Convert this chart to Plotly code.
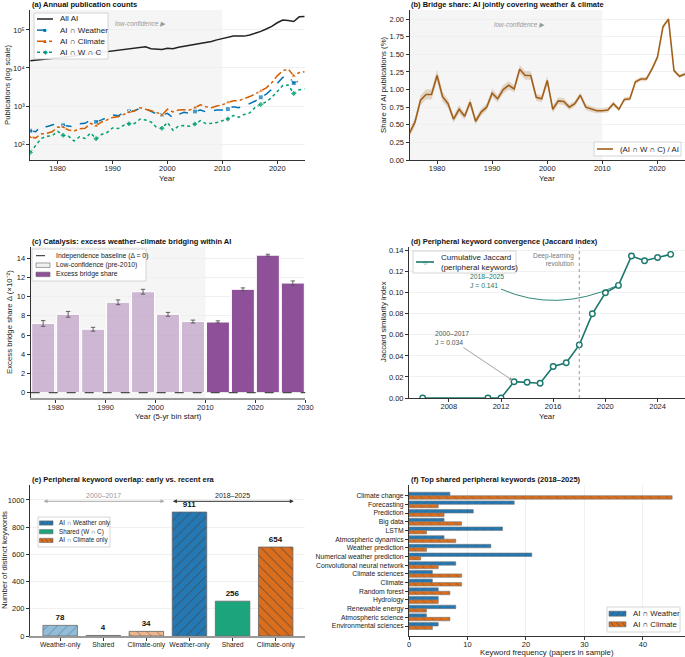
import plotly.graph_objects as go

W, H = 685, 657
FONT = "Liberation Sans, Arial, sans-serif"

# ---------------- data ----------------
years = list(range(1975, 2026))
all_ai = [15500, 16000, 16500, 17200, 17800, 18500, 19300, 20000, 20800, 21800,
          22800, 24000, 25000, 26000, 27000, 28300, 29500, 30500, 31500, 33000,
          34500, 36000, 32000, 31000, 30500, 33000, 32000, 35000, 37000, 39500,
          42000, 45000, 46500, 50000, 55000, 60000, 64000, 69000, 69000, 69000,
          74000, 82000, 92000, 106000, 124000, 155000, 183000, 178000, 167000, 222000,
          225000]
ai_weather = [224, 210, 300, 285, 316, 350, 310, 300, 285, 340,
              350, 430, 380, 430, 500, 580, 550, 670, 720, 750,
              870, 850, 720, 620, 580, 640, 490, 600, 680, 640,
              720, 780, 700, 740, 780, 780, 830, 960, 900, 1000,
              1180, 1350, 1690, 2050, 2750, 3950, 5650, 6200, 4000, 4600,
              4650]
ai_climate = [150, 145, 183, 190, 210, 280, 275, 233, 220, 253,
              260, 350, 300, 380, 430, 500, 520, 600, 680, 740,
              900, 820, 750, 680, 580, 820, 700, 780, 800, 780,
              900, 1080, 960, 900, 1000, 1080, 1230, 1380, 1380, 1550,
              1770, 2070, 2480, 3000, 4100, 6200, 8500, 9400, 6200, 7600,
              8000]
ai_wc = [60, 90, 140, 160, 165, 215, 170, 160, 120, 155,
         140, 195, 138, 178, 200, 265, 255, 310, 340, 345,
         450, 430, 380, 275, 260, 370, 230, 295, 305, 295,
         335, 410, 345, 350, 370, 410, 455, 560, 505, 600,
         660, 930, 1100, 1290, 1680, 2340, 3460, 3560, 2130, 2680,
         2800]
bridge_share = [0.38, 0.54, 0.85, 0.93, 0.93, 1.20, 0.90, 0.80, 0.58, 0.72,
                0.62, 0.82, 0.55, 0.68, 0.75, 0.95, 0.87, 1.00, 1.06, 1.01,
                1.29, 1.20, 1.20, 0.89, 0.87, 1.13, 0.72, 0.84, 0.83, 0.75,
                0.80, 0.92, 0.75, 0.72, 0.70, 0.70, 0.71, 0.80, 0.72, 0.86,
                0.87, 1.11, 1.15, 1.15, 1.29, 1.46, 1.89, 2.00, 1.27, 1.19,
                1.22]
bridge_ci = [0.05, 0.06, 0.07, 0.07, 0.07, 0.08, 0.07, 0.06, 0.05, 0.06,
             0.05, 0.06, 0.05, 0.05, 0.05, 0.06, 0.05, 0.06, 0.06, 0.05,
             0.06, 0.06, 0.06, 0.05, 0.05, 0.06, 0.05, 0.05, 0.05, 0.04,
             0.04, 0.04, 0.04, 0.04, 0.035, 0.035, 0.035, 0.035, 0.03, 0.03,
             0.03, 0.03, 0.03, 0.03, 0.03, 0.03, 0.03, 0.03, 0.025, 0.025,
             0.025]

bin_starts = [1975, 1980, 1985, 1990, 1995, 2000, 2005, 2010, 2015, 2020, 2025]
excess = [7.2, 8.15, 6.6, 9.4, 10.5, 8.15, 7.4, 7.35, 10.75, 14.3, 11.4]
excess_err = [0.3, 0.3, 0.2, 0.25, 0.25, 0.2, 0.15, 0.12, 0.15, 0.1, 0.22]

jac_years = [2006, 2011, 2012, 2013, 2014, 2015, 2016, 2017, 2018, 2019,
             2020, 2021, 2022, 2023, 2024, 2025]
jac_vals = [0.0, 0.0, 0.0, 0.0155, 0.015, 0.014, 0.030, 0.0335, 0.0505, 0.080,
            0.100, 0.107, 0.135, 0.1305, 0.1335, 0.1365]

overlap_cats = ["Weather-only", "Shared", "Climate-only"]
overlap_names = ["AI ∩ Weather only", "Shared (W ∩ C)", "AI ∩ Climate only"]
overlap_early = [78, 4, 34]
overlap_recent = [911, 256, 654]

kw_names = ["Climate change", "Forecasting", "Prediction", "Big data", "LSTM",
            "Atmospheric dynamics", "Weather prediction", "Numerical weather prediction",
            "Convolutional neural network", "Climate sciences", "Climate", "Random forest",
            "Hydrology", "Renewable energy", "Atmospheric science", "Environmental sciences"]
kw_weather = [7, 18, 11, 6, 16, 6, 14, 21, 8, 4, 4, 5, 5, 8, 3, 5]
kw_climate = [45, 5, 6, 9, 3, 8, 3, 2, 5, 9, 9, 7, 5, 3, 7, 4]

# ---------------- styling ----------------
BLUE, ORANGE, GREEN = "#0072B2", "#D55E00", "#009E73"
BROWN = "#a0601a"
TEAL = "#1b786d"
BAR_BLUE, BAR_GREEN, BAR_ORANGE = "#2479b5", "#1ca57c", "#db6e1d"


def dx(px):
    return px / W


def dy(py):
    return 1 - py / H


fig = go.Figure()

# ---- (a) ----
mk = lambda n: [5 if i % 6 == 0 else 0 for i in range(n)]
fig.add_trace(go.Scatter(x=years, y=all_ai, mode="lines", name="All AI",
                         line=dict(color="#222222", width=1.5), xaxis="x", yaxis="y"))
fig.add_trace(go.Scatter(x=years, y=ai_weather, mode="lines+markers", name="AI ∩ Weather",
                         line=dict(color=BLUE, width=1.5, dash="dash"),
                         marker=dict(symbol="square", size=mk(len(years)), color=BLUE),
                         xaxis="x", yaxis="y"))
fig.add_trace(go.Scatter(x=years, y=ai_climate, mode="lines+markers", name="AI ∩ Climate",
                         line=dict(color=ORANGE, width=1.5, dash="dashdot"),
                         marker=dict(symbol="triangle-up", size=mk(len(years)), color=ORANGE),
                         xaxis="x", yaxis="y"))
fig.add_trace(go.Scatter(x=years, y=ai_wc, mode="lines+markers", name="AI ∩ W ∩ C",
                         line=dict(color=GREEN, width=1.5, dash="dot"),
                         marker=dict(symbol="diamond", size=mk(len(years)), color=GREEN),
                         xaxis="x", yaxis="y"))

# ---- (b) ----
lo = [s - c for s, c in zip(bridge_share, bridge_ci)]
hi = [s + c for s, c in zip(bridge_share, bridge_ci)]
fig.add_trace(go.Scatter(x=years, y=hi, mode="lines", line=dict(width=0),
                         hoverinfo="skip", xaxis="x2", yaxis="y2"))
fig.add_trace(go.Scatter(x=years, y=lo, mode="lines", line=dict(width=0), fill="tonexty",
                         fillcolor="rgba(160,96,26,0.22)", hoverinfo="skip",
                         xaxis="x2", yaxis="y2"))
fig.add_trace(go.Scatter(x=years, y=bridge_share, mode="lines", name="(AI ∩ W ∩ C) / AI",
                         line=dict(color=BROWN, width=1.6), xaxis="x2", yaxis="y2"))

# ---- (c) ----
early_idx = [i for i, b in enumerate(bin_starts) if b < 2010]
late_idx = [i for i, b in enumerate(bin_starts) if b >= 2010]
for idx, col in [(late_idx, "rgba(138,74,150,0.97)"), (early_idx, "rgba(138,74,150,0.36)")]:
    fig.add_trace(go.Bar(x=[bin_starts[i] + 2.5 for i in idx], y=[excess[i] for i in idx],
                         width=4.6, name="Excess bridge share",
                         marker=dict(color=col, line=dict(color="white", width=1)),
                         error_y=dict(type="data", array=[excess_err[i] for i in idx],
                                      color="#555", thickness=0.9, width=2.2),
                         xaxis="x3", yaxis="y3"))

# ---- (d) ----
fig.add_trace(go.Scatter(x=jac_years, y=jac_vals, mode="lines+markers",
                         name="Cumulative Jaccard",
                         line=dict(color=TEAL, width=1.6),
                         marker=dict(symbol="circle", size=5.5, color="white", line=dict(color=TEAL, width=1.4)),
                         xaxis="x4", yaxis="y4"))

# ---- (e) ----
e_colors = [BAR_BLUE, BAR_GREEN, BAR_ORANGE]
e_light = ["rgba(36,121,181,0.5)", "rgba(28,165,124,0.5)", "rgba(219,110,29,0.5)"]
e_hatch = ["/", "", "\\"]
n = len(overlap_cats)
for k in range(n):
    for era, vals, cols in [(0, overlap_early, e_light), (1, overlap_recent, e_colors)]:
        fig.add_trace(go.Bar(x=[k + era * n], y=[vals[k]], width=0.8, name=overlap_names[k],
                             marker=dict(color=cols[k], line=dict(color="#666", width=0.8),
                                         pattern=dict(shape=e_hatch[k], fgcolor="#444", size=7,
                                                      solidity=0.14, fillmode="overlay",
                                                      fgopacity=0.85 if era else 0.45)),
                             texttemplate="<b>%{y}</b>", textposition="outside",
                             textfont=dict(size=8, color="#111", family=FONT), cliponaxis=False,
                             xaxis="x5", yaxis="y5"))

# ---- (f) ----
fig.add_trace(go.Bar(y=kw_names, x=kw_weather, orientation="h", name="AI ∩ Weather",
                     width=0.4, offset=-0.4,
                     marker=dict(color=BAR_BLUE, line=dict(color="#777", width=0.6),
                                 pattern=dict(shape="/", fgcolor="#444", size=6, solidity=0.12, fillmode="overlay")),
                     xaxis="x6", yaxis="y6"))
fig.add_trace(go.Bar(y=kw_names, x=kw_climate, orientation="h", name="AI ∩ Climate",
                     width=0.4, offset=0.0,
                     marker=dict(color=BAR_ORANGE, line=dict(color="#777", width=0.6),
                                 pattern=dict(shape="\\", fgcolor="#444", size=6, solidity=0.12, fillmode="overlay")),
                     xaxis="x6", yaxis="y6"))

# ---------------- axes ----------------
base = dict(showline=True, linecolor="#333", linewidth=1, ticks="outside", ticklen=3,
            tickwidth=0.8, tickcolor="#333", tickfont=dict(size=7.5, color="#222", family=FONT),
            zeroline=False, showgrid=False, automargin=False, fixedrange=True)
xb = dict(base, ticklabelstandoff=-2)
grid = dict(showgrid=True, gridcolor="#f0f0f0", gridwidth=0.8)

ya = dict(domain=[dy(160), dy(10)])
yc = dict(domain=[dy(398), dy(247)])
ye = dict(domain=[dy(636), dy(485)])
xl = [dx(30.2), dx(304.7)]
xr = [dx(409.5), 1.0]

fig.update_layout(
    xaxis=dict(xb, domain=xl, range=[1975, 2025], tickvals=[1980, 1990, 2000, 2010, 2020], anchor="y"),
    yaxis=dict(base, **ya, **grid, type="log", range=[1.579, 5.526], anchor="x",
               tickvals=[1e2, 1e3, 1e4, 1e5], ticktext=["10²", "10³", "10⁴", "10⁵"]),
    xaxis2=dict(xb, domain=xr, range=[1975, 2025], tickvals=[1980, 1990, 2000, 2010, 2020], anchor="y2"),
    yaxis2=dict(base, **ya, **grid, range=[0, 2.13], tickvals=[0, 0.25, 0.5, 0.75, 1, 1.25, 1.5, 1.75, 2],
                tickformat=".2f", anchor="x2"),
    xaxis3=dict(xb, domain=[dx(30.7), dx(305.3)], range=[1975, 2030],
                tickvals=[1980, 1990, 2000, 2010, 2020, 2030], anchor="y3", linecolor="#999", linewidth=2),
    yaxis3=dict(base, **yc, **grid, range=[-0.55, 15.15], tickvals=[0, 2, 4, 6, 8, 10, 12, 14], anchor="x3"),
    xaxis4=dict(xb, domain=[dx(409), 1.0], range=[2004.95, 2026.1],
                tickvals=[2008, 2012, 2016, 2020, 2024], anchor="y4"),
    yaxis4=dict(base, **yc, **grid, range=[0, 0.1435], tickvals=[0, 0.02, 0.04, 0.06, 0.08, 0.10, 0.12, 0.14],
                tickformat=".2f", anchor="x4"),
    xaxis5=dict(xb, domain=[dx(30), dx(305)], range=[-0.7, 5.68], tickvals=list(range(2 * n)),
                ticktext=overlap_cats * 2, anchor="y5", tickfont=dict(size=6.8, color="#222", family=FONT),
                linecolor="#999", linewidth=1.5),
    yaxis5=dict(base, **ye, **grid, range=[0, 1110], tickvals=[0, 200, 400, 600, 800, 1000], anchor="x5"),
    xaxis6=dict(xb, **grid, domain=[dx(409), 1.0], range=[0, 47.2], tickvals=[0, 10, 20, 30, 40], anchor="y6"),
    yaxis6=dict(base, **ye, type="category", range=[16.15, -1.23], anchor="x6",
                tickfont=dict(size=6.8, color="#222", family=FONT)),
)

# ---------------- shapes ----------------
shapes = []
for xa, ya_ in [("x", "y"), ("x2", "y2"), ("x3", "y3")]:
    shapes.append(dict(type="rect", xref=xa, yref=ya_ + " domain", x0=1975, x1=2010, y0=0, y1=1,
                       fillcolor="rgba(0,0,0,0.04)", line=dict(width=0), layer="below"))
shapes.append(dict(type="line", xref="x3 domain", yref="y3", x0=0, x1=1, y0=0, y1=0,
                   line=dict(color="#222", width=1, dash="dash")))
shapes.append(dict(type="line", xref="x4", yref="y4 domain", x0=2018, x1=2018, y0=0, y1=1,
                   line=dict(color="#999", width=1, dash="dot")))
shapes.append(dict(type="path", xref="x4", yref="y4",
                   path="M 2012.0,0.1035 Q 2016.2,0.0806 2020.85,0.1065",
                   line=dict(color=TEAL, width=0.9)))

ann = []


def txt(text, x, y, size=7.5, color="#222", xanchor="center", yanchor="middle", angle=0, **kw):
    d = dict(text=text, x=x, y=y, xref=kw.pop("xref", "paper"), yref=kw.pop("yref", "paper"),
             showarrow=False, font=dict(size=size, color=color, family=FONT),
             xanchor=xanchor, yanchor=yanchor, textangle=angle)
    d.update(kw)
    ann.append(d)


# ---------------- manual legends (pixel layout) ----------------
def pbox(x0, y0, x1, y1):
    shapes.append(dict(type="rect", xref="paper", yref="paper", x0=dx(x0), x1=dx(x1), y0=dy(y1), y1=dy(y0),
                       fillcolor="rgba(255,255,255,0.9)", line=dict(color="#cccccc", width=0.8)))


def pline(x0, x1, y, color, dash="solid", width=1.5):
    shapes.append(dict(type="line", xref="paper", yref="paper", x0=dx(x0), x1=dx(x1), y0=dy(y), y1=dy(y),
                       line=dict(color=color, width=width, dash=dash)))


def ppatch(x0, x1, y, h, color, hatch=""):
    shapes.append(dict(type="rect", xref="paper", yref="paper", x0=dx(x0), x1=dx(x1),
                       y0=dy(y + h / 2), y1=dy(y - h / 2), fillcolor=color, line=dict(color="#666", width=0.6)))
    if hatch:
        step = (x1 - x0) / 3
        for j in range(3):
            a = x0 + j * step + step * 0.3
            b = a + step * 0.6
            if hatch == "/":
                yy0, yy1 = y + h / 2 - 0.5, y - h / 2 + 0.5
            else:
                yy0, yy1 = y - h / 2 + 0.5, y + h / 2 - 0.5
            shapes.append(dict(type="line", xref="paper", yref="paper", x0=dx(a), x1=dx(b),
                               y0=dy(yy0), y1=dy(yy1), line=dict(color="#444", width=0.6)))


# (a)
pbox(34, 13, 108, 59)
leg_a = [("All AI", "#222222", "solid", ""), ("AI ∩ Weather", BLUE, "dash", "■"),
         ("AI ∩ Climate", ORANGE, "dashdot", "▲"), ("AI ∩ W ∩ C", GREEN, "dot", "◆")]
for r, (lab, col, dsh, sym) in enumerate(leg_a):
    yy = 19 + r * 11.1
    pline(37, 53, yy, col, dsh)
    if sym:
        txt(sym, dx(45), dy(yy), size=6, color=col)
    txt(lab, dx(58), dy(yy), size=8, xanchor="left")

# (b)
pbox(594, 142, 681, 156)
pline(597, 613, 149, BROWN, width=1.6)
txt("(AI ∩ W ∩ C) / AI", dx(618), dy(149), size=7.8, xanchor="left")

# (c)
pbox(32, 249, 146, 281)
pline(36, 50, 255.7, "#222", "dash", 1)
txt("Independence baseline (Δ = 0)", dx(54), dy(255.7), size=6.8, xanchor="left")
ppatch(36, 50, 265.2, 4.5, "rgba(0,0,0,0.05)")
txt("Low-confidence (pre-2010)", dx(54), dy(265.2), size=6.8, xanchor="left")
ppatch(36, 50, 274.4, 4.5, "rgba(138,74,150,0.97)")
txt("Excess bridge share", dx(54), dy(274.4), size=6.8, xanchor="left")

# (d)
pbox(413, 251, 516, 273)
pline(416, 434, 262, TEAL, width=1.6)
txt("○", dx(425), dy(262), size=7, color=TEAL)
txt("Cumulative Jaccard<br>(peripheral keywords)", dx(438.5), dy(262), size=8, xanchor="left", align="left")

# (e)
pbox(38, 517, 110, 547)
for r, (lab, col, hat) in enumerate(zip(overlap_names, e_colors, e_hatch)):
    yy = 523 + r * 8.7
    ppatch(39.5, 53, yy, 4.2, col, hat)
    txt(lab, dx(57), dy(yy), size=6.3, xanchor="left")

# (f)
pbox(607, 607, 680, 632)
ppatch(609, 626, 613.7, 5, BAR_BLUE, "/")
txt("AI ∩ Weather", dx(630.5), dy(613.7), size=7.8, xanchor="left")
ppatch(609, 626, 624.3, 5, BAR_ORANGE, "\\")
txt("AI ∩ Climate", dx(630.5), dy(624.3), size=7.8, xanchor="left")

fig.update_layout(shapes=shapes)

# titles
for t, x, y in [("(a) Annual publication counts", 30, 4), ("(b) Bridge share: AI jointly covering weather & climate", 409, 4),
                ("(c) Catalysis: excess weather–climate bridging within AI", 30, 241),
                ("(d) Peripheral keyword convergence (Jaccard index)", 409, 241),
                ("(e) Peripheral keyword overlap: early vs. recent era", 30, 479),
                ("(f) Top shared peripheral keywords (2018–2025)", 409, 479)]:
    txt("<b>" + t + "</b>", dx(x), dy(y), size=7.5, color="#111", xanchor="left")

# axis titles
txt("Publications (log scale)", dx(7), dy(85), angle=-90, size=7.8)
txt("Year", dx(167), dy(178), size=7.8)
txt("Share of AI publications (%)", dx(383), dy(85), angle=-90, size=7.8)
txt("Year", dx(547), dy(178), size=7.8)
txt("Excess bridge share Δ (×10⁻²)", dx(9), dy(322), angle=-90, size=7.8)
txt("Year (5-yr bin start)", dx(168), dy(416), size=7.8)
txt("Jaccard similarity index", dx(383), dy(322), angle=-90, size=7.8)
txt("Year", dx(547), dy(416), size=7.8)
txt("Number of distinct keywords", dx(4), dy(560), angle=-90, size=7.8)
txt("Keyword frequency (papers in sample)", dx(547), dy(652.5), size=7.8)

# low-confidence labels
txt("<i>low-confidence ▶</i>", 1990, 0.913, size=6.5, color="#999", xanchor="left", xref="x", yref="y domain")
txt("<i>low-confidence ▶</i>", 1990, 0.9, size=6.5, color="#999", xanchor="left", xref="x2", yref="y2 domain")

# (d) annotations
txt("Deep-learning<br>revolution", 2017.75, 0.132, size=6.5, color="#777", xanchor="right", xref="x4", yref="y4", align="right")
txt("2018–2025<br>J = 0.141", 2009.5, 0.1116, size=6.8, color=TEAL, xanchor="left", xref="x4", yref="y4", align="left")
txt("2000–2017<br>J = 0.034", 2006.8, 0.0573, size=6.8, color="#555", xanchor="left", xref="x4", yref="y4", align="left")
ann.append(dict(x=2012.9, y=0.0166, ax=2009.0, ay=0.049, xref="x4", yref="y4", axref="x4", ayref="y4",
                showarrow=True, arrowhead=2, arrowsize=0.8, arrowwidth=0.9, arrowcolor="#999", text=""))

# (e) era arrows
ann.append(dict(x=2.42, y=990, ax=-0.42, ay=990, xref="x5", yref="y5", axref="x5", ayref="y5",
                showarrow=True, arrowhead=2, startarrowhead=2, arrowside="end+start", arrowsize=0.8,
                arrowwidth=1, arrowcolor="#aaa", text=""))
ann.append(dict(x=5.42, y=990, ax=2.58, ay=990, xref="x5", yref="y5", axref="x5", ayref="y5",
                showarrow=True, arrowhead=2, startarrowhead=2, arrowside="end+start", arrowsize=0.8,
                arrowwidth=1, arrowcolor="#333", text=""))
txt("2000–2017", 1.0, 1035, size=7, color="#999", xref="x5", yref="y5")
txt("2018–2025", 4.0, 1035, size=7, color="#222", xref="x5", yref="y5")

fig.update_layout(annotations=ann)

fig.update_layout(width=W, height=H, margin=dict(l=0, r=0, t=0, b=0),
                  paper_bgcolor="white", plot_bgcolor="white", barmode="overlay",
                  font=dict(family=FONT, size=8, color="#222"), showlegend=False)

fig.write_html("out.html", config={"displayModeBar": False},
               post_script="document.body.style.margin='0px';")
